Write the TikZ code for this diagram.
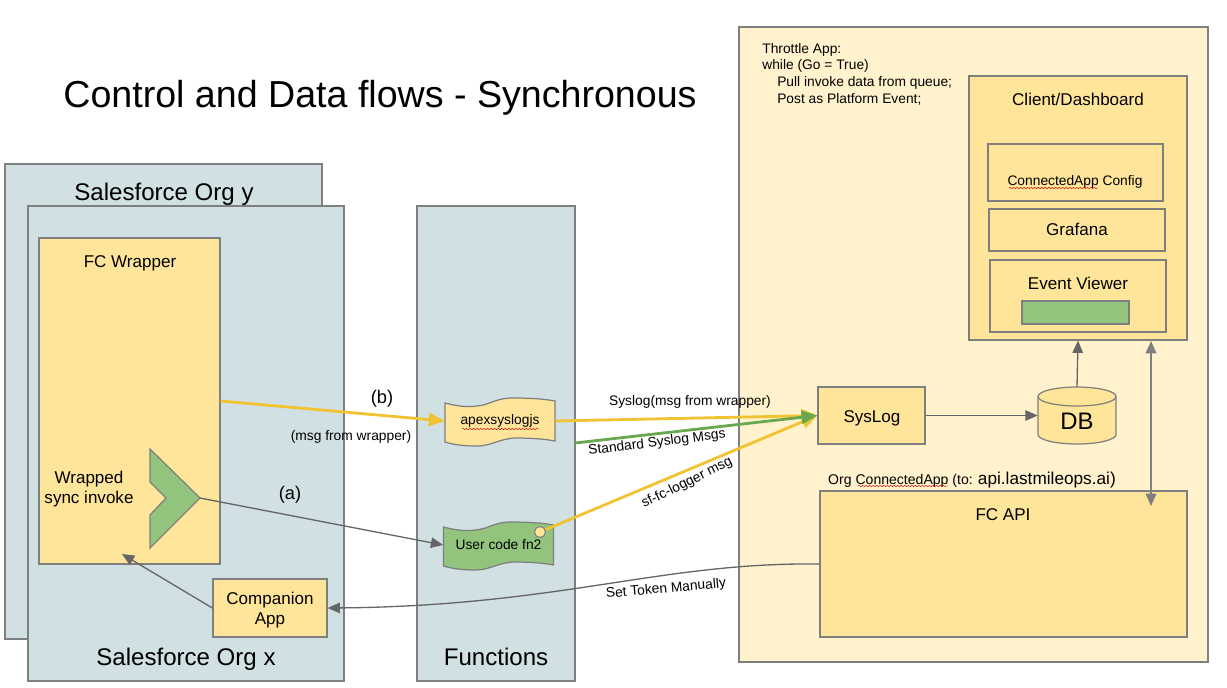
\documentclass[tikz,border=0pt]{standalone}
\usepackage{fontspec}
\setmainfont{Liberation Sans}
\usetikzlibrary{arrows.meta,positioning,calc,decorations.pathmorphing}
\definecolor{orgblue}{HTML}{D0E0E3}
\definecolor{boxyellow}{HTML}{FFE599}
\definecolor{panelcream}{HTML}{FFF2CC}
\definecolor{fngreen}{HTML}{93C47D}
\definecolor{linegray}{HTML}{666666}
\definecolor{edgegray}{HTML}{7F7F7F}
\definecolor{flowyellow}{HTML}{F1C232}
\definecolor{flowgreen}{HTML}{6AA84F}
\newcommand{\smallishfont}{\fontsize{7.85}{9.45}\selectfont}
\newcommand{\medfont}{\fontsize{9.7}{11.6}\selectfont}
\newcommand{\bigfont}{\fontsize{13.7}{16}\selectfont}
\newcommand{\wavetape}[3]{\draw[draw=edgegray, fill=#3, line width=0.7pt, shift={(#1,#2)}] (-55,-18) .. controls (-40,-14) and (-30,-14) .. (-23,-15) .. controls (-10,-16) and (-5,-23) .. (13,-23) .. controls (30,-23) and (45,-22) .. (55,-20) -- (55,20) .. controls (45,18) and (30,17) .. (17,17) .. controls (0,17) and (-8,25) .. (-23,25) .. controls (-35,25) and (-45,24) .. (-55,21) -- cycle;}
\tikzset{
    panel/.style={rectangle, draw=edgegray, line width=0.7pt, inner sep=0pt},
    orgbox/.style={panel, fill=orgblue},
    yellowbox/.style={panel, fill=boxyellow, align=center, font=\medfont},
    tapelabel/.style={rectangle, inner sep=0pt, minimum width=2.2cm, minimum height=0.8cm, font=\smallishfont},
    flow/.style={-{Triangle[length=7pt,width=6pt]}, line width=0.75pt, draw=linegray},
    yellowflow/.style={-{Triangle[length=9pt,width=7.5pt]}, line width=1.6pt, draw=flowyellow},
    greenflow/.style={-{Triangle[length=9pt,width=7.5pt]}, line width=1.6pt, draw=flowgreen},
    squiggle/.style={red!80!black, line width=0.25pt, decorate, decoration={snake, amplitude=0.4pt, segment length=2pt}},
}
\begin{document}
\begin{tikzpicture}[x=0.02cm, y=-0.02cm]
    \useasboundingbox (0,0) rectangle (1227,687);

    \node[font=\fontsize{21.4}{26}\selectfont] (title) at (380,98) {Control and Data flows - Synchronous};

    % salesforce orgs
    \node[orgbox, minimum width=6.34cm, minimum height=9.5cm] (orgy) at (163.5,401.5) {};
    \node[font=\bigfont] (orgylabel) at (164,194) {Salesforce Org y};
    \node[orgbox, minimum width=6.32cm, minimum height=9.5cm] (orgx) at (186,443.5) {};
    \node[font=\bigfont] (orgxlabel) at (186,659) {Salesforce Org x};
    \node[yellowbox, minimum width=3.62cm, minimum height=6.52cm] (wrapper) at (129.5,401) {};
    \node[font=\medfont] (wrapperlabel) at (130,263) {FC Wrapper};
    \node[font=\medfont, align=center] (invokelabel) at (89,489) {Wrapped\\sync invoke};
    \draw[draw=edgegray, fill=fngreen, line width=0.7pt] (150,449) -- (200,498) coordinate (chevtip) -- (150,548) -- (150,515) -- (166,498) -- (150,482) -- cycle;
    \node[yellowbox, minimum width=2.28cm, minimum height=1.16cm] (companion) at (270,608) {};
    \node[font=\medfont, align=center] (companionlabel) at (270,610) {Companion\\App};
    \coordinate (wrapfoot) at (122,554);

    % functions column
    \node[orgbox, minimum width=3.16cm, minimum height=9.5cm] (functions) at (496,443.5) {};
    \node[font=\bigfont] (functionslabel) at (496,657) {Functions};
    \wavetape{500}{421}{boxyellow}
    \node[tapelabel] (apex) at (500,421) {apexsyslogjs};
    \wavetape{498.5}{545}{fngreen}
    \node[tapelabel] (usercode) at (498.5,545) {User code fn2};
    \node[circle, draw=edgegray, fill=boxyellow, line width=0.6pt, minimum size=0.22cm, inner sep=0pt] (logdot) at (540,532) {};
    \coordinate (greenstart) at (575,443);
    \draw[squiggle] (462,429) -- (539,429);

    % throttle app
    \node[panel, fill=panelcream, minimum width=9.38cm, minimum height=12.7cm] (throttle) at (973.5,344.5) {};
    \node[font=\smallishfont, align=left, anchor=north west, inner sep=0pt] (throttlelabel) at (762,43) {Throttle App:\\while (Go = True)\\\hspace{8.5pt}Pull invoke data from queue;\\\hspace{8.5pt}Post as Platform Event;};
    \node[yellowbox, minimum width=4.36cm, minimum height=5.28cm] (dashboard) at (1078,208) {};
    \node[font=\medfont] (dashboardlabel) at (1078,99) {Client/Dashboard};
    \node[yellowbox, minimum width=3.5cm, minimum height=1.14cm] (config) at (1075.5,172.5) {};
    \node[font=\smallishfont] (configlabel) at (1075,182) {ConnectedApp Config};
    \draw[squiggle] (1009,188) -- (1098,188);
    \node[yellowbox, minimum width=3.52cm, minimum height=0.84cm] (grafana) at (1077,230) {};
    \node[font=\medfont] (grafanalabel) at (1077,229) {Grafana};
    \node[yellowbox, minimum width=3.52cm, minimum height=1.44cm] (viewer) at (1078,296) {};
    \node[font=\medfont] (viewerlabel) at (1078,283) {Event Viewer};
    \node[panel, fill=fngreen, minimum width=2.14cm, minimum height=0.46cm] (viewerbar) at (1075.5,312.5) {};
    \node[yellowbox, minimum width=2.14cm, minimum height=1.14cm] (syslog) at (871.5,415.5) {};
    \node[font=\medfont] (sysloglabel) at (872,418) {SysLog};
    \draw[draw=edgegray, fill=boxyellow, line width=0.7pt] (1038,396.5) -- (1038,434.5) arc[start angle=180, end angle=360, x radius=0.78cm, y radius=0.19cm] -- (1116,396.5);
    \draw[draw=edgegray, fill=boxyellow, line width=0.7pt] (1077,396.5) ellipse[x radius=0.78cm, y radius=0.19cm];
    \node[rectangle, minimum width=1.56cm, minimum height=1.14cm, inner sep=0pt] (db) at (1077,415.5) {};
    \node[font=\fontsize{13.6}{16}\selectfont] (dblabel) at (1077,421) {DB};
    \node[yellowbox, minimum width=7.34cm, minimum height=2.92cm] (fcapi) at (1003.5,564) {};
    \node[font=\medfont] (fcapilabel) at (1003,515) {FC API};
    \node[font=\fontsize{8}{10}\selectfont] (connectedlabel) at (972,480) {Org ConnectedApp (to: {\fontsize{9.8}{10}\selectfont api.lastmileops.ai)}};
    \draw[squiggle] (858,486) -- (948,486);
    \coordinate (dashport) at (1151,341);
    \coordinate (apiport) at (1151,506);

    % connectors
    \draw[yellowflow] (wrapper.east) -- (apex.west);
    \draw[yellowflow] (apex.east) -- (syslog.west);
    \draw[yellowflow] (logdot) -- (syslog.west);
    \draw[greenflow] (greenstart) -- (syslog.west);
    \draw[flow] (chevtip) -- (usercode.west);
    \draw[flow] (companion.west) -- (wrapfoot);
    \draw[flow] (syslog.east) -- (db.west);
    \draw[flow] (db.north) -- (dashboard.south);
    \draw[flow, {Triangle[length=7pt,width=6pt]}-{Triangle[length=7pt,width=6pt]}, draw=edgegray, line width=1pt] (dashport) -- (apiport);
    \draw[flow] (fcapi.west) .. controls (660,562) and (560,606) .. (companion.east);

    % labels
    \node[font=\fontsize{10.4}{12}\selectfont] (blabel) at (382,399) {(b)};
    \node[font=\smallishfont] (msglabel) at (351,437) {(msg from wrapper)};
    \node[font=\fontsize{10.4}{12}\selectfont] (alabel) at (290,495) {(a)};
    \node[font=\smallishfont] (syslogflowlabel) at (690,402) {Syslog(msg from wrapper)};
    \node[font=\smallishfont, rotate=7] (standardlabel) at (657,443) {Standard Syslog Msgs};
    \node[font=\smallishfont, rotate=26] (loggerlabel) at (687,483) {sf-fc-logger msg};
    \node[font=\smallishfont, rotate=5] (tokenlabel) at (666,589) {Set Token Manually};
\end{tikzpicture}
\end{document}
